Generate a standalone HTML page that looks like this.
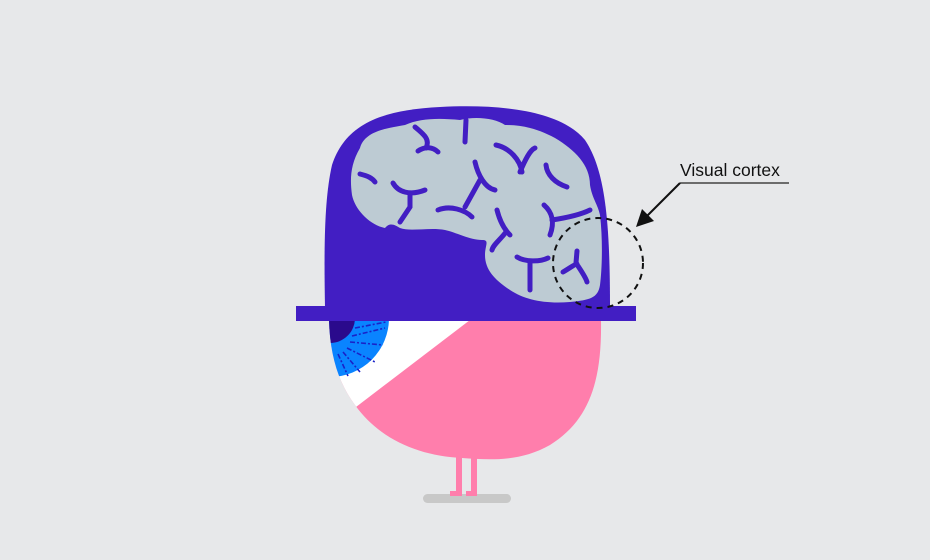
<!DOCTYPE html>
<html><head><meta charset="utf-8"><style>
html,body{margin:0;padding:0;background:#e7e8ea;}
svg{display:block}
</style></head><body>
<svg width="930" height="560" viewBox="0 0 930 560" xmlns="http://www.w3.org/2000/svg">
<rect width="930" height="560" fill="#e7e8ea"/>
<rect x="423" y="494" width="88" height="9" rx="4.5" fill="#c8c8c8"/>
<g fill="#ff7eac">
<rect x="456" y="455" width="6" height="40"/><rect x="450" y="491" width="12" height="5"/>
<rect x="471" y="455" width="6" height="40"/><rect x="466" y="491" width="11" height="5"/>
</g>
<clipPath id="bc"><path d="M329 320 L601 320 C602 380 590 420 550 445 C520 462 490 460 462 458 C420 456 380 440 355 405 C338 382 330 355 329 320 Z"/></clipPath>
<g clip-path="url(#bc)">
<rect x="320" y="315" width="290" height="150" fill="#ff7eac"/>
<path d="M320 315 L470 320 L356 407 L320 420 Z" fill="#ffffff"/>
<circle cx="330" cy="318" r="59" fill="#0a84ff"/>
<g stroke="#1a22c8" stroke-width="1.6" stroke-dasharray="5 2 2 2">
<line x1="352" y1="336" x2="385" y2="328"/><line x1="350" y1="342" x2="383" y2="345"/>
<line x1="347" y1="348" x2="375" y2="362"/><line x1="343" y1="352" x2="360" y2="372"/>
<line x1="338" y1="354" x2="348" y2="376"/><line x1="355" y1="328" x2="386" y2="322"/>
</g>
<circle cx="330" cy="318" r="25" fill="#2a0a8c"/>
</g>
<path d="M325 308 C324 250 324 200 332 165 C345 125 380 110 440 107 C500 104 560 110 585 140 C605 170 610 220 610 308 Z" fill="#421ec3"/>
<rect x="296" y="306" width="340" height="15" fill="#421ec3"/>
<path d="M360 148 C365 130 390 128 405 125 C420 118 440 118 460 120 C475 116 495 118 505 125 C525 125 540 130 555 138 C575 150 590 165 590 185 C592 198 598 205 600 215 C603 240 602 270 600 285 C598 298 590 300 570 302 C545 304 525 300 510 290 C495 280 485 270 485 255 C485 245 490 240 482 240 C470 240 455 232 445 230 C430 227 410 232 400 228 C395 225 390 222 385 228 C370 225 355 210 352 195 C350 180 350 165 360 148 Z" fill="#bdcbd3"/>
<g fill="none" stroke="#421ec3" stroke-width="5" stroke-linecap="round">
<path d="M415 127 C425 135 430 140 426 148"/><path d="M418 151 C425 146 433 147 438 152"/>
<path d="M360 174 C368 176 372 178 375 182"/>
<path d="M393 183 C398 192 410 196 425 190"/><path d="M410 193 L410 207 L400 222"/>
<path d="M466 120 L465 142"/><path d="M475 162 C478 175 485 188 495 190"/>
<path d="M480 180 L465 207"/><path d="M438 210 C450 205 465 210 472 217"/>
<path d="M496 145 C510 148 520 160 522 172"/><path d="M520 172 C525 160 530 150 535 148"/>
<path d="M546 165 C547 175 555 183 567 187"/>
<path d="M544 205 C552 212 555 222 550 235"/><path d="M552 220 C565 218 580 215 590 210"/>
<path d="M497 210 C500 222 505 230 510 235"/><path d="M506 232 C500 240 493 245 492 250"/>
<path d="M517 257 C525 262 540 262 548 258"/><path d="M530 262 L530 290"/>
<path d="M577 251 L576 263"/><path d="M563 272 C570 268 575 264 577 264"/><path d="M578 266 C582 272 586 278 587 282"/>
</g>
<circle cx="598" cy="263" r="45" fill="none" stroke="#111" stroke-width="2" stroke-dasharray="6 5"/>
<line x1="680" y1="183" x2="789" y2="183" stroke="#222" stroke-width="1.3"/>
<line x1="680" y1="183" x2="645" y2="218" stroke="#111" stroke-width="2"/>
<polygon points="636,227 642,209 654,221" fill="#111"/>
<text x="680" y="176" font-family="Liberation Sans, sans-serif" font-size="17.5" fill="#111">Visual cortex</text>
</svg>
</body></html>
